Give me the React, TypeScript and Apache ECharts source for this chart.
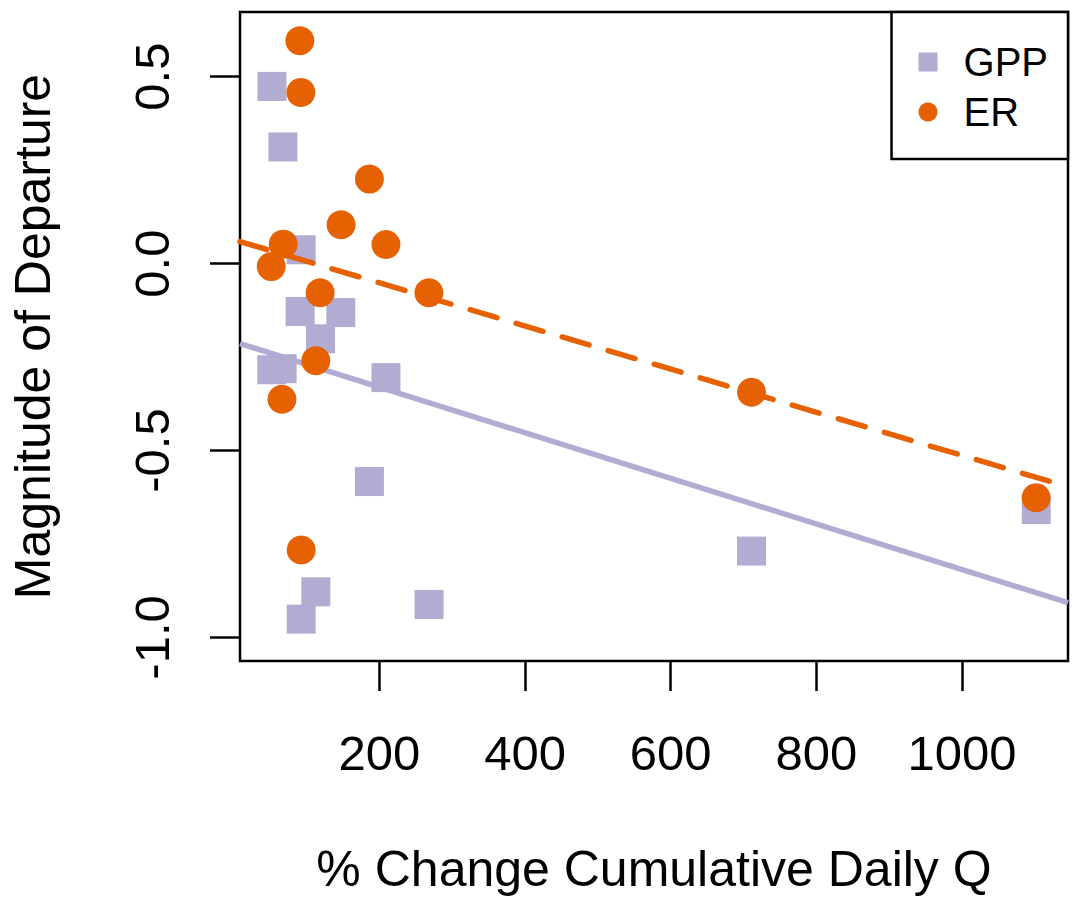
import React, { useEffect, useRef } from "react";
import * as echarts from "echarts";

// GPP (gross primary production) points: x = % change cumulative daily Q, y = magnitude of departure
const gppX = [52.5, 67.5, 92.6, 91.2, 147, 119.2, 52.2, 66.4, 209, 186.3, 112.7, 92.6, 268.2, 711, 1102];
const gppY = [0.474, 0.312, 0.037, -0.128, -0.131, -0.201, -0.284, -0.281, -0.305, -0.583, -0.878, -0.951, -0.912, -0.769, -0.658];

// ER (ecosystem respiration) points
const erX = [90.8, 92.2, 186.3, 147.4, 209, 67.9, 51.5, 118.6, 268, 112.7, 66.2, 711, 1101.8, 92.6];
const erY = [0.596, 0.458, 0.226, 0.104, 0.051, 0.052, -0.008, -0.078, -0.078, -0.26, -0.363, -0.344, -0.626, -0.766];

// Fitted regression lines, endpoints at the axis extent
const fitX = [8.6, 1145.6];
const gppFitY = [-0.214, -0.907];
const erFitY = [0.059, -0.597];

// Axis extents and ticks
const xRange = [8.6, 1145.6];
const yRange = [-1.063, 0.673];
const xTicks = [200, 400, 600, 800, 1000];
const yTicks = [-1.0, -0.5, 0.0, 0.5];

const GPP_COLOR = "#b2abd2";
const ER_COLOR = "#e66101";
const FONT = "'Liberation Sans', Arial, Helvetica, sans-serif";

export default function App() {
  const ref = useRef<HTMLDivElement>(null);

  useEffect(() => {
    if (!ref.current) return;
    const chart = echarts.init(ref.current, undefined, { renderer: "svg" });
    const zip = (xs: number[], ys: number[]) => xs.map((x, i) => [x, ys[i]]);

    chart.setOption({
      animation: false,
      backgroundColor: "#ffffff",
      textStyle: { fontFamily: FONT, color: "#000" },
      grid: {
        left: 238,
        right: 22,
        top: 12,
        bottom: 254,
        show: true,
        borderColor: "#000",
        borderWidth: 2.5,
        backgroundColor: "transparent",
        containLabel: false,
      },
      legend: {
        orient: "vertical",
        right: 22,
        top: 12,
        data: [
          { name: "GPP", icon: "rect" },
          { name: "ER", icon: "circle" },
        ],
        itemWidth: 19,
        itemHeight: 19,
        itemGap: 10,
        padding: [30, 20, 27, 27],
        borderColor: "#000",
        borderWidth: 2.5,
        backgroundColor: "#fff",
        textStyle: {
          fontFamily: FONT,
          fontSize: 40,
          color: "#000",
          lineHeight: 40,
          padding: [0, 0, 0, 21],
        },
      },
      xAxis: {
        type: "value",
        min: xRange[0],
        max: xRange[1],
        name: "% Change Cumulative Daily Q",
        nameLocation: "middle",
        nameGap: 183,
        nameTextStyle: { fontFamily: FONT, fontSize: 50, color: "#000" },
        axisLine: { show: false, onZero: false },
        splitLine: { show: false },
        axisTick: {
          show: true,
          length: 30,
          inside: false,
          customValues: xTicks,
          lineStyle: { color: "#000", width: 2.5 },
        },
        axisLabel: {
          show: true,
          customValues: xTicks,
          margin: 67,
          fontFamily: FONT,
          fontSize: 49,
          color: "#000",
          formatter: (v: number) => String(Math.round(v)),
        },
      },
      yAxis: {
        type: "value",
        min: yRange[0],
        max: yRange[1],
        name: "Magnitude of Departure",
        nameLocation: "middle",
        nameGap: 182,
        nameRotate: 90,
        nameTextStyle: { fontFamily: FONT, fontSize: 50, color: "#000" },
        axisLine: { show: false, onZero: false },
        splitLine: { show: false },
        axisTick: {
          show: true,
          length: 30,
          inside: false,
          customValues: yTicks,
          lineStyle: { color: "#000", width: 2.5 },
        },
        axisLabel: {
          show: true,
          customValues: yTicks,
          rotate: 90,
          margin: 64,
          fontFamily: FONT,
          fontSize: 49,
          color: "#000",
          formatter: (v: number) => v.toFixed(1),
        },
      },
      series: [
        {
          name: "GPP",
          type: "scatter",
          symbol: "rect",
          symbolSize: 29,
          itemStyle: { color: GPP_COLOR, opacity: 1 },
          data: zip(gppX, gppY),
          z: 2,
        },
        {
          name: "GPP fit",
          type: "line",
          data: zip(fitX, gppFitY),
          showSymbol: false,
          symbol: "none",
          lineStyle: { color: GPP_COLOR, width: 5.5, type: "solid" },
          z: 3,
        },
        {
          name: "ER",
          type: "scatter",
          symbol: "circle",
          symbolSize: 29,
          itemStyle: { color: ER_COLOR, opacity: 1 },
          data: zip(erX, erY),
          z: 4,
        },
        {
          name: "ER fit",
          type: "line",
          data: zip(fitX, erFitY),
          showSymbol: false,
          symbol: "none",
          lineStyle: { color: ER_COLOR, width: 5.5, type: [28, 20], cap: "round" },
          z: 5,
        },
      ],
    });

    return () => chart.dispose();
  }, []);

  return (
    <div
      ref={ref}
      style={{ position: "fixed", left: 0, top: 0, width: 1090, height: 915, background: "#fff" }}
    />
  );
}
